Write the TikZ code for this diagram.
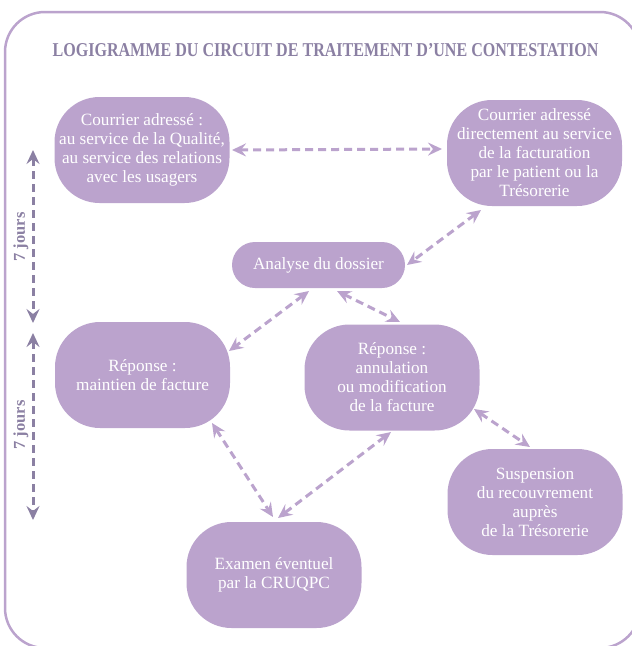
\documentclass[tikz,border=0pt]{standalone}
\usepackage{fontspec}
\setmainfont{Liberation Serif}
\usetikzlibrary{arrows.meta}
\definecolor{boxc}{HTML}{BBA3CD}
\definecolor{titlec}{HTML}{8B80A3}
\begin{document}
\begin{tikzpicture}[x=1pt,y=1pt,
  box/.style={fill=boxc, rounded corners=45pt, minimum width=175pt, minimum height=106pt,
    inner sep=0pt, text=white, align=center, font=\fontsize{17.2}{19}\selectfont},
  link/.style={draw=boxc, line width=3pt, dash pattern=on 8pt off 5pt, {Stealth[length=14pt,width=13pt,inset=5pt]}-{Stealth[length=14pt,width=13pt,inset=5pt]}},
  days/.style={draw=titlec, line width=3pt, dash pattern=on 8pt off 5pt, {Stealth[length=14pt,width=13pt,inset=5pt]}-{Stealth[length=14pt,width=13pt,inset=5pt]}},
  dayslabel/.style={text=titlec, rotate=90, font=\bfseries\fontsize{16.5}{16}\selectfont, inner sep=0pt},
  frame/.style={draw=boxc, line width=2.5pt, rounded corners=40pt}]
\useasboundingbox (0,0) rectangle (632,-646);
\clip (0,0) rectangle (632,-646);
\draw[frame] (5,-12) rectangle (640,-648);

\node[text=titlec, anchor=base, inner sep=0pt, font=\bfseries\fontsize{19.6}{20}\selectfont] (title) at (325.5,-56)
  {\scalebox{0.82}[1]{LOGIGRAMME DU CIRCUIT DE TRAITEMENT D’UNE CONTESTATION}};

\node[box] (A) at (142,-150) {Courrier adressé :\\au service de la Qualité,\\au service des relations\\avec les usagers};
\node[box] (B) at (534.5,-153) {Courrier adressé\\directement au service\\de la facturation\\par le patient ou la\\Trésorerie};
\node[box, minimum width=173pt, minimum height=46pt, rounded corners=23pt] (N) at (318.5,-265) {Analyse du dossier};
\node[box] (M) at (142.5,-375) {Réponse :\\maintien de facture};
\node[box] (R) at (392,-377.5) {Réponse :\\annulation\\ou modification\\de la facture};
\node[box] (S) at (535,-502) {Suspension\\du recouvrement\\auprès\\de la Trésorerie};
\node[box] (E) at (274,-575) {Examen éventuel\\par la CRUQPC};

\draw[link] ([shift={(90,0)}]A.center) -- ([shift={(-92.5,4)}]B.center);
\draw[link] ([shift={(-53.5,-57)}]B.center) -- ([shift={(88.5,0)}]N.center);
\draw[link] ([shift={(-9.5,-26)}]N.center) -- ([shift={(86.5,24)}]M.center);
\draw[link] ([shift={(18.5,-26)}]N.center) -- ([shift={(8,55.5)}]R.center);
\draw[link] ([shift={(69.5,-48)}]M.center) -- ([shift={(-1,58)}]E.center);
\draw[link] ([shift={(-1,-54.5)}]R.center) -- ([shift={(4,57)}]E.center);
\draw[link] ([shift={(82,-31.5)}]R.center) -- ([shift={(-5,55)}]S.center);

\coordinate (d1a) at (33,-150);
\coordinate (d1b) at (33,-323);
\coordinate (d2a) at (33,-333);
\coordinate (d2b) at (33,-520);
\draw[days] (d1a) -- (d1b);
\draw[days] (d2a) -- (d2b);
\node[dayslabel] (L1) at (21,-237) {7 jours};
\node[dayslabel] (L2) at (21,-425) {7 jours};
\end{tikzpicture}
\end{document}
